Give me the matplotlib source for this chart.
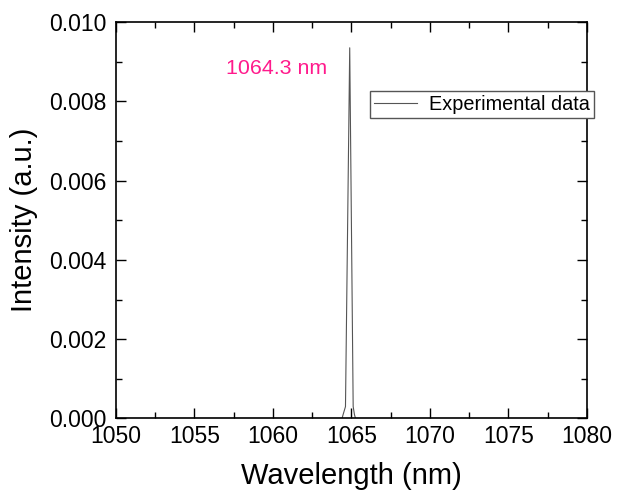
import matplotlib.pyplot as plt
from matplotlib.ticker import MultipleLocator

plt.rcParams['font.family'] = ['Liberation Sans', 'DejaVu Sans']

# spectrum
wavelength = [1050.0, 1064.40, 1064.47, 1064.62, 1064.89, 1065.11, 1065.19, 1065.26, 1080.0]
intensity = [0.0, 0.0, 0.0001, 0.0003, 0.00935, 0.0003, 0.0001, 0.0, 0.0]

fig = plt.figure(figsize=(6.3, 4.97), dpi=100)
ax = fig.add_axes([0.1840, 0.158, 0.7477, 0.7977])

ax.plot(wavelength, intensity, color="#555555", linewidth=0.8, label="Experimental data")

ax.set_xlim(1050, 1080)
ax.set_ylim(0, 0.010)
ax.xaxis.set_major_locator(MultipleLocator(5))
ax.xaxis.set_minor_locator(MultipleLocator(2.5))
ax.yaxis.set_major_locator(MultipleLocator(0.002))
ax.yaxis.set_minor_locator(MultipleLocator(0.001))
ax.yaxis.set_major_formatter(plt.FormatStrFormatter('%.3f'))
ax.tick_params(which="both", direction="in", top=True, right=True, labelsize=16.5, width=1)
ax.tick_params(axis="x", pad=5)
ax.tick_params(axis="y", pad=7)
ax.tick_params(which="major", length=7)
ax.tick_params(which="minor", length=4)
for s in ax.spines.values():
    s.set_linewidth(1.2)

ax.set_xlabel("Wavelength (nm)", fontsize=21, labelpad=10)
ax.set_ylabel("Intensity (a.u.)", fontsize=21, labelpad=8)

ax.text(1060.2, 0.00882, "1064.3 nm", color="#ff1a8c", fontsize=15.4, ha="center", va="center")

ax.legend(loc="upper right", bbox_to_anchor=(1.015, 0.825), fontsize=14.3, frameon=True,
          fancybox=False, edgecolor="#555555", framealpha=1, handlelength=2.2,
          handletextpad=0.6, borderpad=0.2, borderaxespad=0)

fig.savefig("out.png", dpi=100)
